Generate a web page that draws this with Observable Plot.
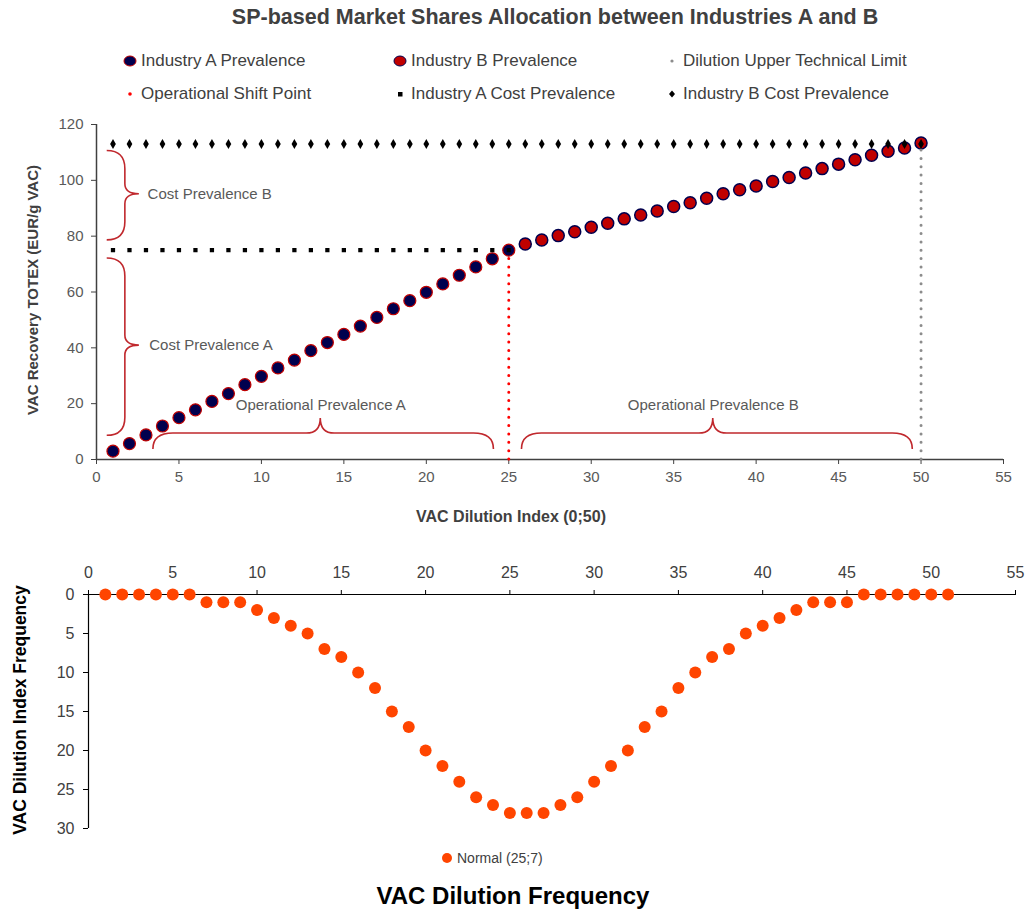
<!DOCTYPE html>
<html>
<head>
<meta charset="utf-8">
<script src="https://cdn.jsdelivr.net/npm/d3@7"></script>
<script src="https://cdn.jsdelivr.net/npm/@observablehq/plot@0.6"></script>
<style>
  body { margin: 0; background: #fff; }
  #page { position: relative; width: 1027px; height: 911px; font-family: "Liberation Sans", Arial, sans-serif; color: #404040; overflow: hidden; }
  .abs { position: absolute; white-space: nowrap; }
  .leg { position: absolute; font-size: 17px; color: #404040; display: flex; align-items: center; white-space: nowrap; }
  .leg svg { margin-right: 4px; }
</style>
</head>
<body>
<div id="page">
  <div class="abs" id="title" style="left:555px;top:5px;transform:translateX(-50%);font-size:21.5px;font-weight:bold;color:#404040;">SP-based Market Shares Allocation between Industries A and B</div>
  <div id="legend"></div>
  <div class="abs" id="topPlot" style="left:0;top:110px;"></div>
  <div class="abs" style="left:511px;top:508px;transform:translateX(-50%);font-size:16px;font-weight:bold;color:#404040;">VAC Dilution Index (0;50)</div>
  <div class="abs" style="left:32px;top:290px;transform:translate(-50%,-50%) rotate(-90deg);font-size:15px;font-weight:bold;color:#404040;">VAC Recovery TOTEX (EUR/g VAC)</div>
  <div class="abs" id="bottomPlot" style="left:0;top:545px;"></div>
  <div class="abs" style="left:20px;top:710px;transform:translate(-50%,-50%) rotate(-90deg);font-size:17.5px;font-weight:bold;color:#000;">VAC Dilution Index Frequency</div>
  <div class="leg" style="left:441px;top:850px;font-size:14px;"><svg width="12" height="12"><circle cx="6" cy="6" r="5" fill="#FF4500"/></svg>Normal (25;7)</div>
  <div class="abs" style="left:513px;top:882px;transform:translateX(-50%);font-size:24px;font-weight:bold;color:#000;">VAC Dilution Frequency</div>
</div>
<script>
// ---------- Top chart data ----------
const indexA = [1,2,3,4,5,6,7,8,9,10,11,12,13,14,15,16,17,18,19,20,21,22,23,24,25];
const industryA = [3,5.7,8.8,12,15,17.8,20.8,23.6,26.8,29.8,32.8,35.6,39,41.9,44.8,47.8,50.9,54,56.9,59.9,62.9,66,69,71.9,75];
const indexB = [26,27,28,29,30,31,32,33,34,35,36,37,38,39,40,41,42,43,44,45,46,47,48,49,50];
const industryB = [77.2,78.6,80.2,81.6,83.2,84.6,86.2,87.6,89,90.6,92,93.6,95.2,96.6,98,99.6,101,102.6,104.2,105.8,107.4,109,110.4,111.6,113.4];
const costAIndex = indexA;
const costALevel = 75;
const costBIndex = [1,2,3,4,5,6,7,8,9,10,11,12,13,14,15,16,17,18,19,20,21,22,23,24,25,26,27,28,29,30,31,32,33,34,35,36,37,38,39,40,41,42,43,44,45,46,47,48,49,50];
const costBLevel = 113;
const shiftPoint = {x: 25, y1: 0, y2: 75};
const upperLimit = {x: 50, y1: 0, y2: 113};
const topXTicks = [0,5,10,15,20,25,30,35,40,45,50,55];
const topYTicks = [0,20,40,60,80,100,120];

const legendItems = [
  {label: "Industry A Prevalence", kind: "A"},
  {label: "Industry B Prevalence", kind: "B"},
  {label: "Dilution Upper Technical Limit", kind: "gray"},
  {label: "Operational Shift Point", kind: "red"},
  {label: "Industry A Cost Prevalence", kind: "square"},
  {label: "Industry B Cost Prevalence", kind: "diamond"}
];

// Annotation braces (data units)
const vBraces = [
  {end: 0.65, spine: 1.75, tip: 2.6, from: 78.5, to: 110.5, mid: 95},
  {end: 0.65, spine: 1.75, tip: 2.6, from: 8.5, to: 72, mid: 40.8}
];
const hBraces = [
  {left: 3.45, right: 24.1, end: 3.6, flat: 9.3, tip: 14.7, tipX: 13.6},
  {left: 25.8, right: 49.5, end: 3.6, flat: 9.3, tip: 14.7, tipX: 37.4}
];
const sideLabels = [
  {x: 3.1, y: 95, text: "Cost Prevalence B"},
  {x: 3.2, y: 40.8, text: "Cost Prevalence A"}
];
const spanLabels = [
  {x: 13.6, y: 19.4, text: "Operational Prevalence A"},
  {x: 37.4, y: 19.4, text: "Operational Prevalence B"}
];

// ---------- Bottom chart data ----------
const freqIndex = [1,2,3,4,5,6,7,8,9,10,11,12,13,14,15,16,17,18,19,20,21,22,23,24,25,26,27,28,29,30,31,32,33,34,35,36,37,38,39,40,41,42,43,44,45,46,47,48,49,50,51];
const frequency = [0,0,0,0,0,0,1,1,1,2,3,4,5,7,8,10,12,15,17,20,22,24,26,27,28,28,28,27,26,24,22,20,17,15,12,10,8,7,5,4,3,2,1,1,1,0,0,0,0,0,0];
const bottomXTicks = [0,5,10,15,20,25,30,35,40,45,50,55];
const bottomYTicks = [0,5,10,15,20,25,30];

// ---------- Colors ----------
const navy = "#00004E";
const darkRed = "#C00000";
const orange = "#FF4500";

// ---------- Legend ----------
function markerSVG(kind) {
  switch (kind) {
    case "A": return `<svg width="14" height="12"><ellipse cx="7" cy="6" rx="6" ry="5" fill="${navy}" stroke="${darkRed}" stroke-width="1"/></svg>`;
    case "B": return `<svg width="14" height="12"><ellipse cx="7" cy="6" rx="6" ry="5" fill="${darkRed}" stroke="${navy}" stroke-width="1"/></svg>`;
    case "gray": return `<svg width="14" height="12"><circle cx="7" cy="6" r="1.6" fill="#8c8c8c"/></svg>`;
    case "red": return `<svg width="14" height="12"><circle cx="7" cy="6" r="1.8" fill="#FF0000"/></svg>`;
    case "square": return `<svg width="14" height="12"><rect x="5" y="4" width="4.5" height="4.5" fill="#000"/></svg>`;
    case "diamond": return `<svg width="14" height="12"><path d="M7 2.5 L10 6 L7 9.5 L4 6 Z" fill="#000"/></svg>`;
  }
}
const legPos = [[123, 51], [393, 51], [665, 51], [123, 84], [393, 84], [665, 84]];
const legendDiv = document.getElementById("legend");
legendItems.forEach((d, i) => {
  const el = document.createElement("div");
  el.className = "leg";
  el.style.left = legPos[i][0] + "px";
  el.style.top = legPos[i][1] + "px";
  el.innerHTML = markerSVG(d.kind) + `<span>${d.label}</span>`;
  legendDiv.appendChild(el);
});

// ---------- Brace mark ----------
function braces(index, scales) {
  const {x, y} = scales;
  const g = d3.create("svg:g").attr("fill", "none").attr("stroke", "#C0282D").attr("stroke-width", 1.6);
  for (const b of vBraces) {
    const xe = x(b.end), xs = x(b.spine), xt = x(b.tip);
    const yt = y(b.to), yb = y(b.from), ym = y(b.mid);
    const r = xs - xe;
    const rt = 10;
    g.append("path").attr("d",
      `M${xe},${yt} Q${xs},${yt} ${xs},${yt + r} L${xs},${ym - rt} Q${xs},${ym} ${xt},${ym} Q${xs},${ym} ${xs},${ym + rt} L${xs},${yb - r} Q${xs},${yb} ${xe},${yb}`);
  }
  for (const b of hBraces) {
    const xl = x(b.left), xr = x(b.right), xt = x(b.tipX);
    const ye = y(b.end), yf = y(b.flat), yt = y(b.tip);
    const r = 20, rt = 14;
    g.append("path").attr("d",
      `M${xl},${ye} Q${xl},${yf} ${xl + r},${yf} L${xt - rt},${yf} Q${xt},${yf} ${xt},${yt} Q${xt},${yf} ${xt + rt},${yf} L${xr - r},${yf} Q${xr},${yf} ${xr},${ye}`);
  }
  return g.node();
}

// ---------- Top chart ----------
const dataA = indexA.map((x, i) => ({x, y: industryA[i]}));
const dataB = indexB.map((x, i) => ({x, y: industryB[i]}));

const topChart = Plot.plot({
  width: 1027,
  height: 400,
  marginTop: 14,
  marginBottom: 51,
  marginLeft: 96,
  marginRight: 24,
  x: {domain: [0, 55]},
  y: {domain: [0, 120]},
  style: {fontFamily: "'Liberation Sans', Arial, sans-serif", fontSize: "15px", color: "#595959", background: "transparent"},
  marks: [
    Plot.axisX({ticks: topXTicks, tickSize: 5, tickPadding: 7, label: null, stroke: "#404040"}),
    Plot.axisY({ticks: topYTicks, tickSize: 5, tickPadding: 8, label: null, stroke: "#404040"}),
    Plot.ruleY([0], {x1: 0, x2: 55, stroke: "#404040", strokeWidth: 1.5}),
    Plot.ruleX([0], {y1: 0, y2: 120, stroke: "#404040", strokeWidth: 1.5}),
    braces,
    Plot.text(sideLabels, {x: "x", y: "y", text: "text", textAnchor: "start", fill: "#595959", fontSize: 15}),
    Plot.text(spanLabels, {x: "x", y: "y", text: "text", textAnchor: "middle", fill: "#595959", fontSize: 15}),
    Plot.dot(dataB, {x: "x", y: "y", r: 6, fill: darkRed, stroke: navy, strokeWidth: 1.5}),
    Plot.dot(dataA, {x: "x", y: "y", r: 6, fill: navy, stroke: darkRed, strokeWidth: 1.2}),
    Plot.ruleX([shiftPoint], {x: "x", y1: "y1", y2: "y2", stroke: "#FF0000", strokeWidth: 3, strokeDasharray: "0,8.35", strokeLinecap: "round"}),
    Plot.ruleX([upperLimit], {x: "x", y1: "y1", y2: "y2", stroke: "#8c8c8c", strokeWidth: 3, strokeDasharray: "0,8.35", strokeLinecap: "round"}),
    Plot.dot(costAIndex, {x: d => d, y: () => costALevel, symbol: "square", r: 2.4, fill: "#000"}),
    Plot.dot(costBIndex, {x: d => d, y: () => costBLevel, symbol: "diamond", r: 3, fill: "#000"})
  ]
});
document.getElementById("topPlot").appendChild(topChart);

// ---------- Bottom chart ----------
const freqData = freqIndex.map((x, i) => ({x, y: frequency[i]}));
const bottomChart = Plot.plot({
  width: 1027,
  height: 300,
  marginTop: 49,
  marginBottom: 17,
  marginLeft: 88,
  marginRight: 12,
  x: {domain: [0, 55]},
  y: {domain: [0, 30], reverse: true},
  style: {fontFamily: "'Liberation Sans', Arial, sans-serif", fontSize: "16px", color: "#404040", background: "transparent"},
  marks: [
    Plot.axisX({anchor: "top", ticks: bottomXTicks, tickSize: 5, tickPadding: 12, label: null, stroke: "#000"}),
    Plot.axisY({ticks: bottomYTicks, tickSize: 5, tickPadding: 9, label: null, stroke: "#000"}),
    Plot.ruleY([0], {x1: 0, x2: 55, stroke: "#000", strokeWidth: 1.2}),
    Plot.ruleX([0], {y1: 0, y2: 30, stroke: "#000", strokeWidth: 1.2}),
    Plot.dot(freqData, {x: "x", y: "y", r: 6, fill: orange})
  ]
});
document.getElementById("bottomPlot").appendChild(bottomChart);
</script>
</body>
</html>
